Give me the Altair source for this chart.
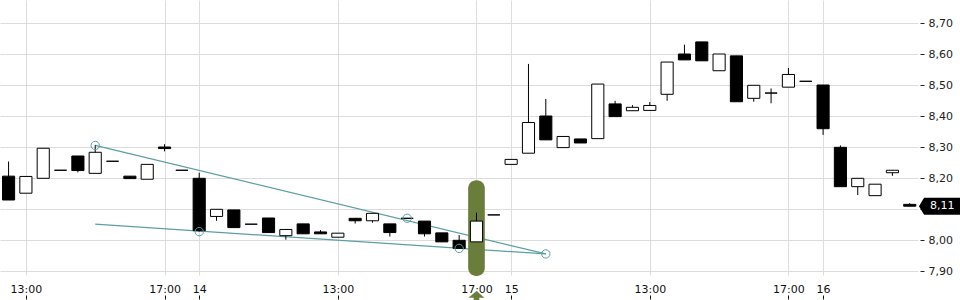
import altair as alt
import pandas as pd

# ---- candle data (30-minute candles, index = position on compressed time axis)
idx = list(range(53))
opens = [8.207, 8.152, 8.200, 8.226, 8.272, 8.216, 8.255, 8.207, 8.197, 8.301, 8.226,
         8.200, 8.077, 8.098, 8.052, 8.072, 8.015, 8.053, 8.027, 8.010, 8.071, 8.063,
         8.053, 8.071, 8.062, 8.024, 8.000, 7.995, 8.082,
         8.245, 8.281, 8.401, 8.299, 8.327, 8.328, 8.440, 8.418, 8.419, 8.471, 8.601,
         8.640, 8.547, 8.595, 8.458, 8.475, 8.494, 8.513,
         8.501, 8.300, 8.173, 8.144, 8.218, 8.116]
highs = [8.254, 8.206, 8.297, 8.226, 8.272, 8.307, 8.255, 8.207, 8.245, 8.310, 8.226,
         8.218, 8.100, 8.098, 8.052, 8.072, 8.035, 8.053, 8.033, 8.023, 8.071, 8.087,
         8.053, 8.071, 8.062, 8.024, 8.017, 8.089, 8.082,
         8.261, 8.569, 8.456, 8.335, 8.327, 8.504, 8.450, 8.436, 8.446, 8.575, 8.631,
         8.640, 8.601, 8.595, 8.500, 8.490, 8.556, 8.513,
         8.501, 8.306, 8.200, 8.181, 8.226, 8.120]
lows = [8.130, 8.152, 8.200, 8.226, 8.219, 8.216, 8.255, 8.199, 8.197, 8.287, 8.226,
        8.028, 8.063, 8.041, 8.052, 8.025, 8.002, 8.021, 8.021, 8.010, 8.054, 8.057,
        8.012, 8.071, 8.012, 7.995, 7.974, 7.995, 8.082,
        8.245, 8.281, 8.324, 8.299, 8.314, 8.328, 8.399, 8.418, 8.419, 8.450, 8.582,
        8.579, 8.547, 8.447, 8.447, 8.442, 8.494, 8.513,
        8.340, 8.173, 8.146, 8.144, 8.208, 8.110]
closes = [8.130, 8.206, 8.297, 8.226, 8.225, 8.284, 8.255, 8.199, 8.245, 8.296, 8.226,
          8.031, 8.100, 8.041, 8.052, 8.025, 8.035, 8.021, 8.021, 8.023, 8.063, 8.087,
          8.025, 8.071, 8.021, 7.995, 7.974, 8.062, 8.082,
          8.261, 8.380, 8.324, 8.335, 8.314, 8.504, 8.399, 8.429, 8.435, 8.575, 8.582,
          8.579, 8.601, 8.447, 8.500, 8.475, 8.535, 8.513,
          8.360, 8.173, 8.200, 8.181, 8.226, 8.110]

# ---- axis ticks
tick_idx = [1, 9, 11, 19, 27, 29, 37, 45, 47]
tick_text = ["13:00", "17:00", "14", "13:00", "17:00", "15", "13:00", "17:00", "16"]
y_ticks = [7.9, 8.0, 8.1, 8.2, 8.3, 8.4, 8.5, 8.6, 8.7]

# ---- trend lines and anchor circles
line_id = ["upper", "upper", "lower", "lower"]
line_x = [5, 31, 5, 31]
line_y = [8.306, 7.956, 8.052, 7.956]
circle_x = [5, 23, 31, 11, 26]
circle_y = [8.306, 8.071, 7.956, 8.028, 7.974]

# ---- highlighted candle
hl_idx = [27]
hl_top = [8.194]
hl_bottom = [7.885]

FONT = "DejaVu Sans"
TEAL = "#5b9fa4"
GREEN = "#6b7d3a"
GRID = "#dcdcdc"

df = pd.DataFrame({"i": idx, "open": opens, "high": highs, "low": lows, "close": closes})
lines_df = pd.DataFrame({"line": line_id, "x": line_x, "y": line_y})
circ_df = pd.DataFrame({"x": circle_x, "y": circle_y})
hl_df = pd.DataFrame({"i": hl_idx, "top": hl_top, "bottom": hl_bottom})
last_df = df.tail(1)
last_close = closes[-1]

xscale = alt.Scale(domain=[-0.4945, 52.477], nice=False, zero=False)
yscale = alt.Scale(domain=[7.8881, 8.7752], nice=False, zero=False)

x_expr = " : ".join(f"datum.value == {v} ? '{t}'" for v, t in zip(tick_idx, tick_text)) + " : ''"
# the last-price tag sits over the tick label nearest to it, so that label is left blank
y_expr = (f"abs(datum.value - {last_close}) < 0.03 ? '' : "
          "replace(format(datum.value, '.2f'), '.', ',')")

xaxis = alt.Axis(values=tick_idx, labelExpr=x_expr, grid=True, gridColor=GRID, domain=False,
                 ticks=True, tickSize=24, tickDash=[0, 20, 4], tickColor="#111", tickWidth=1,
                 labelPadding=-15.7, labelFont=FONT, labelFontSize=11, labelColor="#111",
                 labelFlush=False, labelOverlap=False, title=None)
yaxis = alt.Axis(orient="right", values=y_ticks, labelExpr=y_expr,
                 grid=True, gridColor=GRID, domain=False, tickSize=4, tickColor="#222",
                 offset=2, labelPadding=4, labelFont=FONT, labelFontSize=11,
                 labelColor="#222", labelOverlap=False, labelFlush=False,
                 labelSeparation=0, title=None)

X = lambda f: alt.X(f, scale=xscale, axis=xaxis)
Y = lambda f: alt.Y(f, scale=yscale, axis=yaxis)

trend = alt.Chart(lines_df).mark_line(color=TEAL, strokeWidth=1.2).encode(
    x=X("x:Q"), y=Y("y:Q"), detail="line:N",
)

highlight = alt.Chart(hl_df).transform_calculate(
    x1="datum.i - 0.48", x2="datum.i + 0.48"
).mark_bar(color=GREEN, cornerRadius=8).encode(
    x=X("x1:Q"), x2="x2:Q", y=Y("top:Q"), y2="bottom:Q",
)

arrow = alt.Chart(hl_df).mark_point(
    shape="M0,-1 L1,-0.15 L0.35,-0.15 L0.35,1 L-0.35,1 L-0.35,-0.15 L-1,-0.15 Z",
    filled=True, color=GREEN, opacity=1, size=256, strokeWidth=0,
).encode(x=X("i:Q"), y=alt.value(299))

wicks = alt.Chart(df).mark_rule(color="black", strokeWidth=1).encode(
    x=X("i:Q"), y=Y("low:Q"), y2="high:Q",
)

bodies = alt.Chart(df).transform_calculate(
    x1="datum.i - 0.35", x2="datum.i + 0.35"
).mark_bar(stroke="black", strokeWidth=1).encode(
    x=X("x1:Q"), x2="x2:Q", y=Y("open:Q"), y2="close:Q",
    fill=alt.condition("datum.close >= datum.open", alt.value("white"), alt.value("black")),
)

circles = alt.Chart(circ_df).mark_point(
    shape="circle", filled=False, color=TEAL, size=70, strokeWidth=1, opacity=1
).encode(x=X("x:Q"), y=Y("y:Q"))

tag = alt.Chart(last_df).mark_point(
    shape="M-1,0 L-0.78,-0.37 L1,-0.37 L1,0.37 L-0.78,0.37 Z",
    filled=True, color="black", opacity=1, size=2116, strokeWidth=0,
).encode(x=alt.value(942), y=Y("close:Q"))

tag_text = alt.Chart(last_df).transform_calculate(
    label="replace(format(datum.close, '.2f'), '.', ',')"
).mark_text(align="left", baseline="middle", color="white", font=FONT, fontSize=11).encode(
    x=alt.value(930), y=Y("close:Q"), text="label:N"
)

chart = alt.layer(
    trend, highlight, wicks, bodies, circles, arrow, tag, tag_text
).properties(
    width=918, height=275,
    padding={"left": 0, "top": 0, "right": 42, "bottom": 25},
    autosize=alt.AutoSizeParams(type="none"),
    background="white",
).configure_view(stroke=None).configure_axis(labelOverlap=False)

chart.save("out.html", embed_options={"renderer": "svg", "actions": False})
